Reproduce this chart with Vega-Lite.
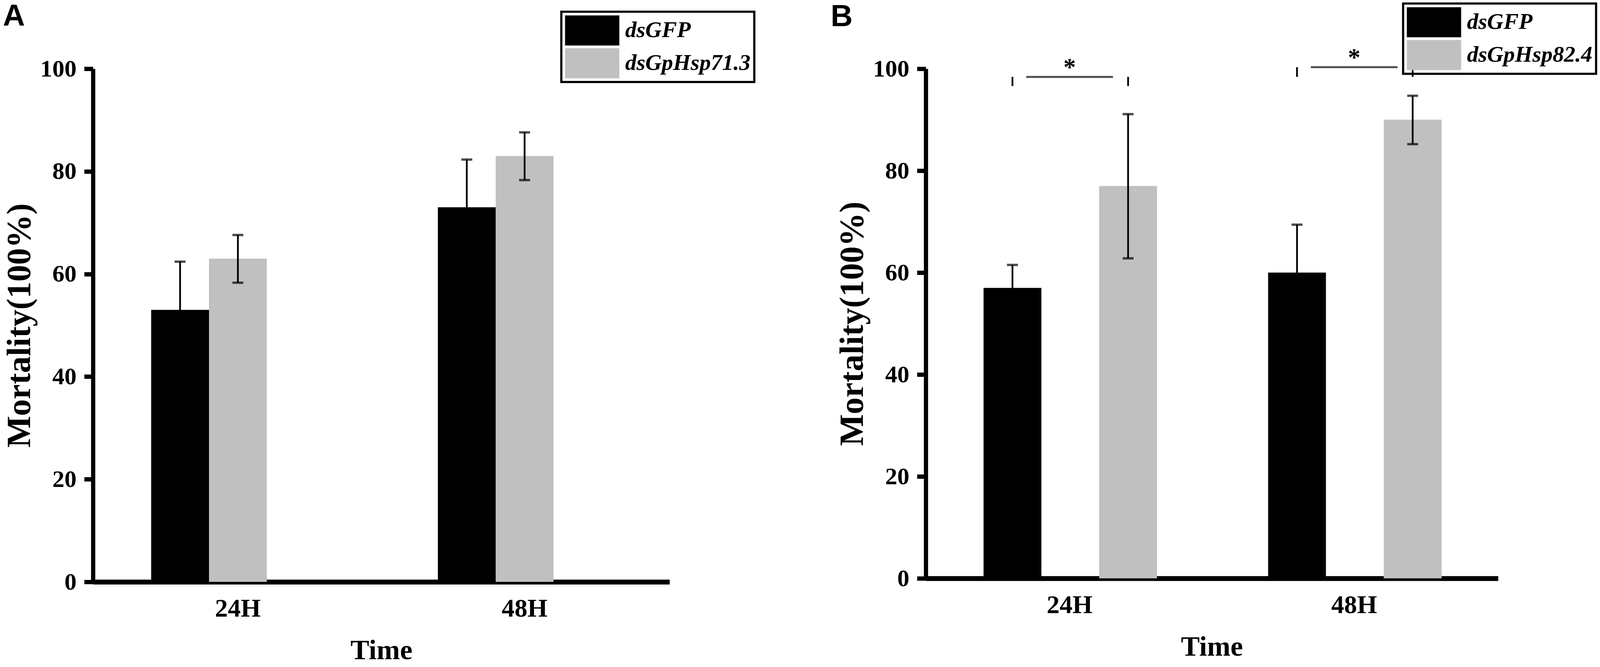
{
  "$schema": "https://vega.github.io/schema/vega-lite/v6.json",
  "padding": {"left": 7, "top": 4, "right": 5, "bottom": 0},
  "background": "white",
  "config": {
    "view": {"stroke": null},
    "font": "Liberation Serif",
    "axis": {
      "domainColor": "black",
      "tickColor": "black",
      "labelColor": "black",
      "titleColor": "black",
      "labelFont": "Liberation Serif",
      "titleFont": "Liberation Serif",
      "labelFontWeight": "bold",
      "titleFontWeight": "bold",
      "grid": false
    },
    "legend": {
      "labelFont": "Liberation Serif",
      "labelFontStyle": "italic",
      "labelFontWeight": "bold",
      "labelFontSize": 58,
      "labelColor": "black",
      "labelLimit": 1000,
      "labelOffset": 77,
      "symbolType": "M-1,-1H2.61V1H-1Z",
      "symbolSize": 5929,
      "symbolStrokeWidth": 0,
      "symbolOpacity": 1,
      "rowPadding": 7,
      "padding": 9.5,
      "strokeColor": "black",
      "strokeWidth": 5.6,
      "title": null
    },
    "title": {
      "font": "Liberation Sans",
      "fontSize": 78,
      "fontWeight": "bold",
      "color": "black",
      "anchor": "start",
      "baseline": "alphabetic"
    }
  },
  "spacing": 172,
  "resolve": {"scale": {"color": "independent"}, "legend": {"color": "independent"}},
  "hconcat": [
    {
      "title": {"text": "A", "offset": -55},
      "width": 1716,
      "height": 1314,
      "data": {"values": [
        {"time": "24H", "group": "dsGFP", "mean": 53, "lo": 43.6, "hi": 62.4},
        {"time": "24H", "group": "dsGpHsp71.3", "mean": 63, "lo": 58.3, "hi": 67.6},
        {"time": "48H", "group": "dsGFP", "mean": 73, "lo": 63.7, "hi": 82.3},
        {"time": "48H", "group": "dsGpHsp71.3", "mean": 83, "lo": 78.3, "hi": 87.6}
      ]},
      "encoding": {
        "x": {
          "field": "time", "type": "nominal", "title": "Time",
          "scale": {"type": "band", "range": [0, 1476], "paddingInner": 0.395, "paddingOuter": 0.203},
          "axis": {"labelAngle": 0, "ticks": false, "domainWidth": 12.5, "labelFontSize": 66, "labelPadding": 36, "titleFontSize": 72, "titlePadding": 39, "titleAnchor": "start", "titleX": 738, "titleAlign": "center"}
        },
        "xOffset": {"field": "group", "type": "nominal", "scale": {"domain": ["dsGFP", "dsGpHsp71.3"], "paddingInner": 0, "paddingOuter": 0}}
      },
      "layer": [
        {
          "mark": {"type": "bar"},
          "encoding": {
            "y": {
              "field": "mean", "type": "quantitative", "title": "Mortality(100%)",
              "scale": {"domain": [0, 100], "nice": false},
              "axis": {"values": [0, 20, 40, 60, 80, 100], "domainWidth": 10.8, "tickWidth": 11, "tickSize": 22.5, "labelFontSize": 62, "labelPadding": 20, "titleFontSize": 86, "titlePadding": 8}
            },
            "color": {
              "field": "group", "type": "nominal",
              "scale": {"domain": ["dsGFP", "dsGpHsp71.3"], "range": ["#000000", "#c0c0c0"]},
              "legend": {"orient": "none", "legendX": 1199, "legendY": -146}
            }
          }
        },
        {
          "mark": {"type": "rule", "color": "black", "strokeWidth": 4.5},
          "encoding": {"y": {"field": "lo", "type": "quantitative"}, "y2": {"field": "hi"}}
        },
        {
          "mark": {"type": "tick", "color": "black", "size": 28, "thickness": 6},
          "encoding": {"y": {"field": "hi", "type": "quantitative"}}
        },
        {
          "mark": {"type": "tick", "color": "black", "size": 28, "thickness": 6},
          "encoding": {"y": {"field": "lo", "type": "quantitative"}}
        }
      ]
    },
    {
      "title": {"text": "B", "offset": -77, "dx": -13},
      "width": 1744,
      "height": 1305,
      "data": {"values": [
        {"time": "24H", "group": "dsGFP", "mean": 57, "lo": 52.5, "hi": 61.5, "top": 98.4, "foot": 96.6},
        {"time": "24H", "group": "dsGpHsp82.4", "mean": 77, "lo": 62.8, "hi": 91.1, "top": 98.4, "foot": 96.6},
        {"time": "48H", "group": "dsGFP", "mean": 60, "lo": 50.6, "hi": 69.4, "top": 100.3, "foot": 98.4},
        {"time": "48H", "group": "dsGpHsp82.4", "mean": 90, "lo": 85.2, "hi": 94.7, "top": 100.3, "foot": 98.4}
      ]},
      "encoding": {
        "x": {
          "field": "time", "type": "nominal", "title": "Time",
          "scale": {"type": "band", "range": [0, 1465], "paddingInner": 0.395, "paddingOuter": 0.203},
          "axis": {"labelAngle": 0, "ticks": false, "domainWidth": 12.5, "labelFontSize": 66, "labelPadding": 36, "titleFontSize": 72, "titlePadding": 39, "titleAnchor": "start", "titleX": 732, "titleAlign": "center"}
        }
      },
      "layer": [
        {
          "mark": {"type": "bar"},
          "encoding": {
            "xOffset": {"field": "group", "type": "nominal", "scale": {"domain": ["dsGFP", "dsGpHsp82.4"], "paddingInner": 0, "paddingOuter": 0}},
            "y": {
              "field": "mean", "type": "quantitative", "title": "Mortality(100%)",
              "scale": {"domain": [0, 100], "nice": false},
              "axis": {"values": [0, 20, 40, 60, 80, 100], "domainWidth": 10.8, "tickWidth": 11, "tickSize": 22.5, "labelFontSize": 62, "labelPadding": 20, "titleFontSize": 86, "titlePadding": 8}
            },
            "color": {
              "field": "group", "type": "nominal",
              "scale": {"domain": ["dsGFP", "dsGpHsp82.4"], "range": ["#000000", "#c0c0c0"]},
              "legend": {"orient": "none", "legendX": 1222, "legendY": -167}
            }
          }
        },
        {
          "mark": {"type": "rule", "color": "black", "strokeWidth": 4.5},
          "encoding": {
            "xOffset": {"field": "group", "type": "nominal"},
            "y": {"field": "lo", "type": "quantitative"}, "y2": {"field": "hi"}
          }
        },
        {
          "mark": {"type": "tick", "color": "black", "size": 28, "thickness": 6},
          "encoding": {"xOffset": {"field": "group", "type": "nominal"}, "y": {"field": "hi", "type": "quantitative"}}
        },
        {
          "mark": {"type": "tick", "color": "black", "size": 28, "thickness": 6},
          "encoding": {"xOffset": {"field": "group", "type": "nominal"}, "y": {"field": "lo", "type": "quantitative"}}
        },
        {
          "mark": {"type": "rule", "color": "black", "strokeWidth": 4.5},
          "encoding": {
            "xOffset": {"field": "group", "type": "nominal"},
            "y": {"field": "foot", "type": "quantitative"}, "y2": {"field": "top"}
          }
        },
        {
          "transform": [{"filter": "datum.group == 'dsGFP'"}],
          "mark": {"type": "tick", "color": "black", "size": 222, "thickness": 5},
          "encoding": {"y": {"field": "top", "type": "quantitative"}}
        },
        {
          "transform": [{"filter": "datum.group == 'dsGFP'"}],
          "mark": {"type": "text", "text": "*", "color": "black", "font": "Liberation Serif", "fontWeight": "bold", "fontSize": 64, "baseline": "alphabetic", "dy": -4},
          "encoding": {"y": {"field": "top", "type": "quantitative"}}
        }
      ]
    }
  ]
}
